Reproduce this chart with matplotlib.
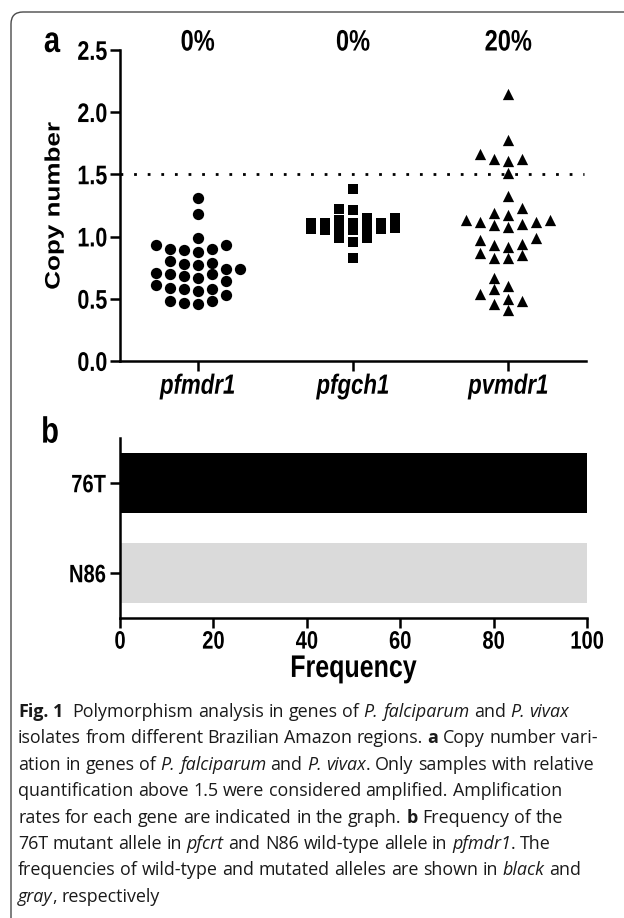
import re
import numpy as np
import matplotlib
matplotlib.use("Agg")
import matplotlib.pyplot as plt
from matplotlib.patches import FancyBboxPatch
from matplotlib.patheffects import AbstractPathEffect
from matplotlib.transforms import IdentityTransform, Affine2D, blended_transform_factory

# ---------------- data ----------------
genes = ["pfmdr1", "pfgch1", "pvmdr1"]
pfmdr1 = [1.31, 1.18, 0.93, 0.90, 0.88, 0.89, 0.90, 0.93, 0.99, 0.80, 0.79,
          0.78, 0.77, 0.74, 0.74, 0.71, 0.70, 0.70, 0.68, 0.67, 0.64, 0.61,
          0.59, 0.58, 0.58, 0.56, 0.53, 0.48, 0.46, 0.47, 0.48]
pfgch1 = [1.38, 1.22, 1.21, 1.15, 1.13, 1.15, 1.11, 1.11, 1.11, 1.11, 1.06,
          1.05, 1.07, 1.07, 1.07, 1.06, 1.05, 0.99, 0.99, 0.96, 0.83]
pvmdr1 = [2.15, 1.78, 1.66, 1.62, 1.62, 1.61, 1.51, 1.33, 1.23, 1.19, 1.17,
          1.13, 1.13, 1.12, 1.12, 1.10, 1.09, 1.08, 0.99, 0.97, 0.94, 0.93,
          0.92, 0.87, 0.85, 0.83, 0.83, 0.67, 0.60, 0.58, 0.54, 0.50, 0.48,
          0.46, 0.41]
threshold = 1.5
a_yticks = [0.0, 0.5, 1.0, 1.5, 2.0, 2.5]

alleles = ["76T", "N86"]
allele_freq = [100, 100]
b_xticks = [0, 20, 40, 60, 80, 100]

caption_lines = [
    "**Fig. 1**  Polymorphism analysis in genes of _P. falciparum_ and _P. vivax_",
    "isolates from different Brazilian Amazon regions. **a** Copy number vari-",
    "ation in genes of _P. falciparum_ and _P. vivax_. Only samples with relative",
    "quantification above 1.5 were considered amplified. Amplification",
    "rates for each gene are indicated in the graph. **b** Frequency of the",
    "76T mutant allele in _pfcrt_ and N86 wild-type allele in _pfmdr1_. The",
    "frequencies of wild-type and mutated alleles are shown in _black_ and",
    "_gray_, respectively",
]

# ---------------- setup ----------------
W, H, DPI = 624, 918, 100
CHART_FONT = ["Liberation Sans", "DejaVu Sans"]
CAP_FONT = ["Open Sans", "Noto Sans", "DejaVu Sans"]
plt.rcParams["font.family"] = CHART_FONT
plt.rcParams["font.weight"] = "bold"
plt.rcParams["axes.linewidth"] = 1.8


class VStretch(AbstractPathEffect):
    """Stretch text vertically (in image space) about its centre."""

    def __init__(self, sy=1.25):
        super().__init__((0, 0))
        self.sy = sy

    def draw_path(self, renderer, gc, tpath, affine, rgbFace=None):
        ext = tpath.get_extents(affine)
        cy = 0.5 * (ext.y0 + ext.y1)
        t = affine + Affine2D().translate(0, -cy).scale(1, self.sy).translate(0, cy)
        renderer.draw_path(gc, tpath, t, rgbFace)


VS = [VStretch(1.25)]

fig = plt.figure(figsize=(W / DPI, H / DPI), dpi=DPI)
fig.patch.set_facecolor("white")

frame = FancyBboxPatch((11, -40), 700, 906 + 40, boxstyle="round,pad=0,rounding_size=12",
                       transform=IdentityTransform(), fill=False, edgecolor="#4a4a4a",
                       linewidth=1.0)
fig.add_artist(frame)


def px_axes(left, top, right, bottom):
    return [left / W, 1 - bottom / H, (right - left) / W, (bottom - top) / H]


# ---------------- panel a ----------------
ax = fig.add_axes(px_axes(120, 50, 586, 361))
ax.set_xlim(0.5, 3.5)
ax.set_ylim(0, 2.5)


def swarm_x(ax, x0, values, step_px=14.0, maxk=3, coll_x=12.5, coll_y=10.0):
    tr = ax.transData
    cx, _ = tr.transform((x0, 0))
    placed = []
    offs = np.zeros(len(values))
    cands = [0]
    for k in range(1, maxk + 1):
        cands += [-k, k]
    for i in np.argsort(values, kind="stable"):
        _, py = tr.transform((x0, values[i]))
        chosen, best_d, best_k = None, -1.0, 0
        for k in cands:
            px = cx + k * step_px
            clash = [np.hypot(px - qx, py - qy) for qx, qy in placed
                     if abs(px - qx) < coll_x and abs(py - qy) < coll_y]
            if not clash:
                chosen = k
                break
            d = min(clash)
            if d > best_d:
                best_d, best_k = d, k
        if chosen is None:
            chosen = best_k
        placed.append((cx + chosen * step_px, py))
        offs[i] = chosen * step_px
    inv = tr.inverted()
    return [inv.transform((cx + o, 0))[0] for o in offs]


groups = [pfmdr1, pfgch1, pvmdr1]
markers = [("o", 66), ("s", 56), ("^", 66)]
for gi, (vals, (mk, sz)) in enumerate(zip(groups, markers)):
    xs = swarm_x(ax, gi + 1, vals)
    ax.scatter(xs, vals, marker=mk, s=sz, color="black", linewidths=0, zorder=3)

ax.axhline(threshold, xmin=0, xmax=0.995, color="black", linewidth=2.0,
           linestyle=(0, (1, 3.9)), zorder=2)

for s in ("top", "right"):
    ax.spines[s].set_visible(False)
ax.set_yticks(a_yticks)
ax.set_yticklabels([f"{v:.1f}" for v in a_yticks])
ax.set_xticks([1, 2, 3])
ax.set_xticklabels(genes, fontstyle="italic", fontweight="bold", fontsize=16)
ax.tick_params(axis="y", direction="out", length=7, width=1.8, labelsize=15.5, pad=2)
ax.tick_params(axis="x", direction="out", length=7, width=1.8, pad=4)
ax.set_ylabel("Copy number", fontsize=15, fontweight="bold", labelpad=10)
ax.yaxis.label.set_path_effects(VS)
for lab in ax.get_xticklabels() + ax.get_yticklabels():
    lab.set_path_effects(VS)

ptr = blended_transform_factory(ax.transData, ax.transAxes)
for gi, vals in enumerate(groups):
    pct = 100.0 * np.mean(np.array(vals) > threshold)
    ax.text(gi + 1, 1 + 8 / 311, f"{pct:.0f}%", transform=ptr, ha="center",
            va="center", fontsize=17, fontweight="bold", path_effects=VS)

fig.text(52 / W, 1 - 42 / H, "a", ha="center", va="center", fontsize=21,
         fontweight="bold", path_effects=VS)

# ---------------- panel b ----------------
bx = fig.add_axes(px_axes(120, 438, 587, 618))
ypos = np.arange(len(alleles))[::-1]
bx.barh(ypos, allele_freq, height=0.667, color=["black", "#dadada"], zorder=2)
bx.set_xlim(0, 100)
bx.set_ylim(-0.5, 1.5)
bx.set_xticks(b_xticks)
bx.set_yticks(ypos)
bx.set_yticklabels(alleles)
for s in ("top", "right"):
    bx.spines[s].set_visible(False)
bx.tick_params(axis="both", direction="out", length=7, width=1.8, labelsize=14.5, pad=3)
bx.set_xlabel("Frequency", fontsize=18, fontweight="bold", labelpad=4)
bx.xaxis.label.set_path_effects(VS)
for lab in bx.get_xticklabels() + bx.get_yticklabels():
    lab.set_path_effects(VS)
fig.text(50 / W, 1 - 432 / H, "b", ha="center", va="center", fontsize=21,
         fontweight="bold", path_effects=VS)

# ---------------- caption ----------------
renderer = fig.canvas.get_renderer()


def parse(line):
    runs = []
    for m in re.finditer(r"\*\*(.+?)\*\*|_(.+?)_|([^*_]+)", line):
        if m.group(1):
            runs.append((m.group(1), "b"))
        elif m.group(2):
            runs.append((m.group(2), "i"))
        else:
            runs.append((m.group(3), "n"))
    return runs


STY = {"n": dict(fontweight="normal", fontstyle="normal"),
       "b": dict(fontweight="bold", fontstyle="normal"),
       "i": dict(fontweight="normal", fontstyle="italic")}


def width_of(s, style, size):
    t = fig.text(0, 0, s, family=CAP_FONT, fontsize=size, **STY[style])
    w = t.get_window_extent(renderer).width
    t.remove()
    return w


def layout(size, draw=True):
    sp = {k: width_of("n n", k, size) - width_of("nn", k, size) for k in STY}
    ends = []
    for li, line in enumerate(caption_lines):
        x = 18.0
        yb = 717 + li * 26.4
        for text, style in parse(line):
            parts = text.split(" ")
            for j, p in enumerate(parts):
                if j > 0:
                    x += sp[style]
                if p:
                    if draw:
                        t = fig.text(x / W, 1 - yb / H, p, family=CAP_FONT, fontsize=size,
                                     ha="left", va="baseline", color="#1a1a1a", **STY[style])
                        w = t.get_window_extent(renderer).width
                    else:
                        w = width_of(p, style, size)
                    x += w
        ends.append(x)
    return ends


size0 = 12.0
ends = layout(size0, draw=False)
size = size0 * (592 - 18) / (ends[2] - 18)
layout(size, draw=True)

fig.savefig("out.png", dpi=DPI, facecolor="white")
